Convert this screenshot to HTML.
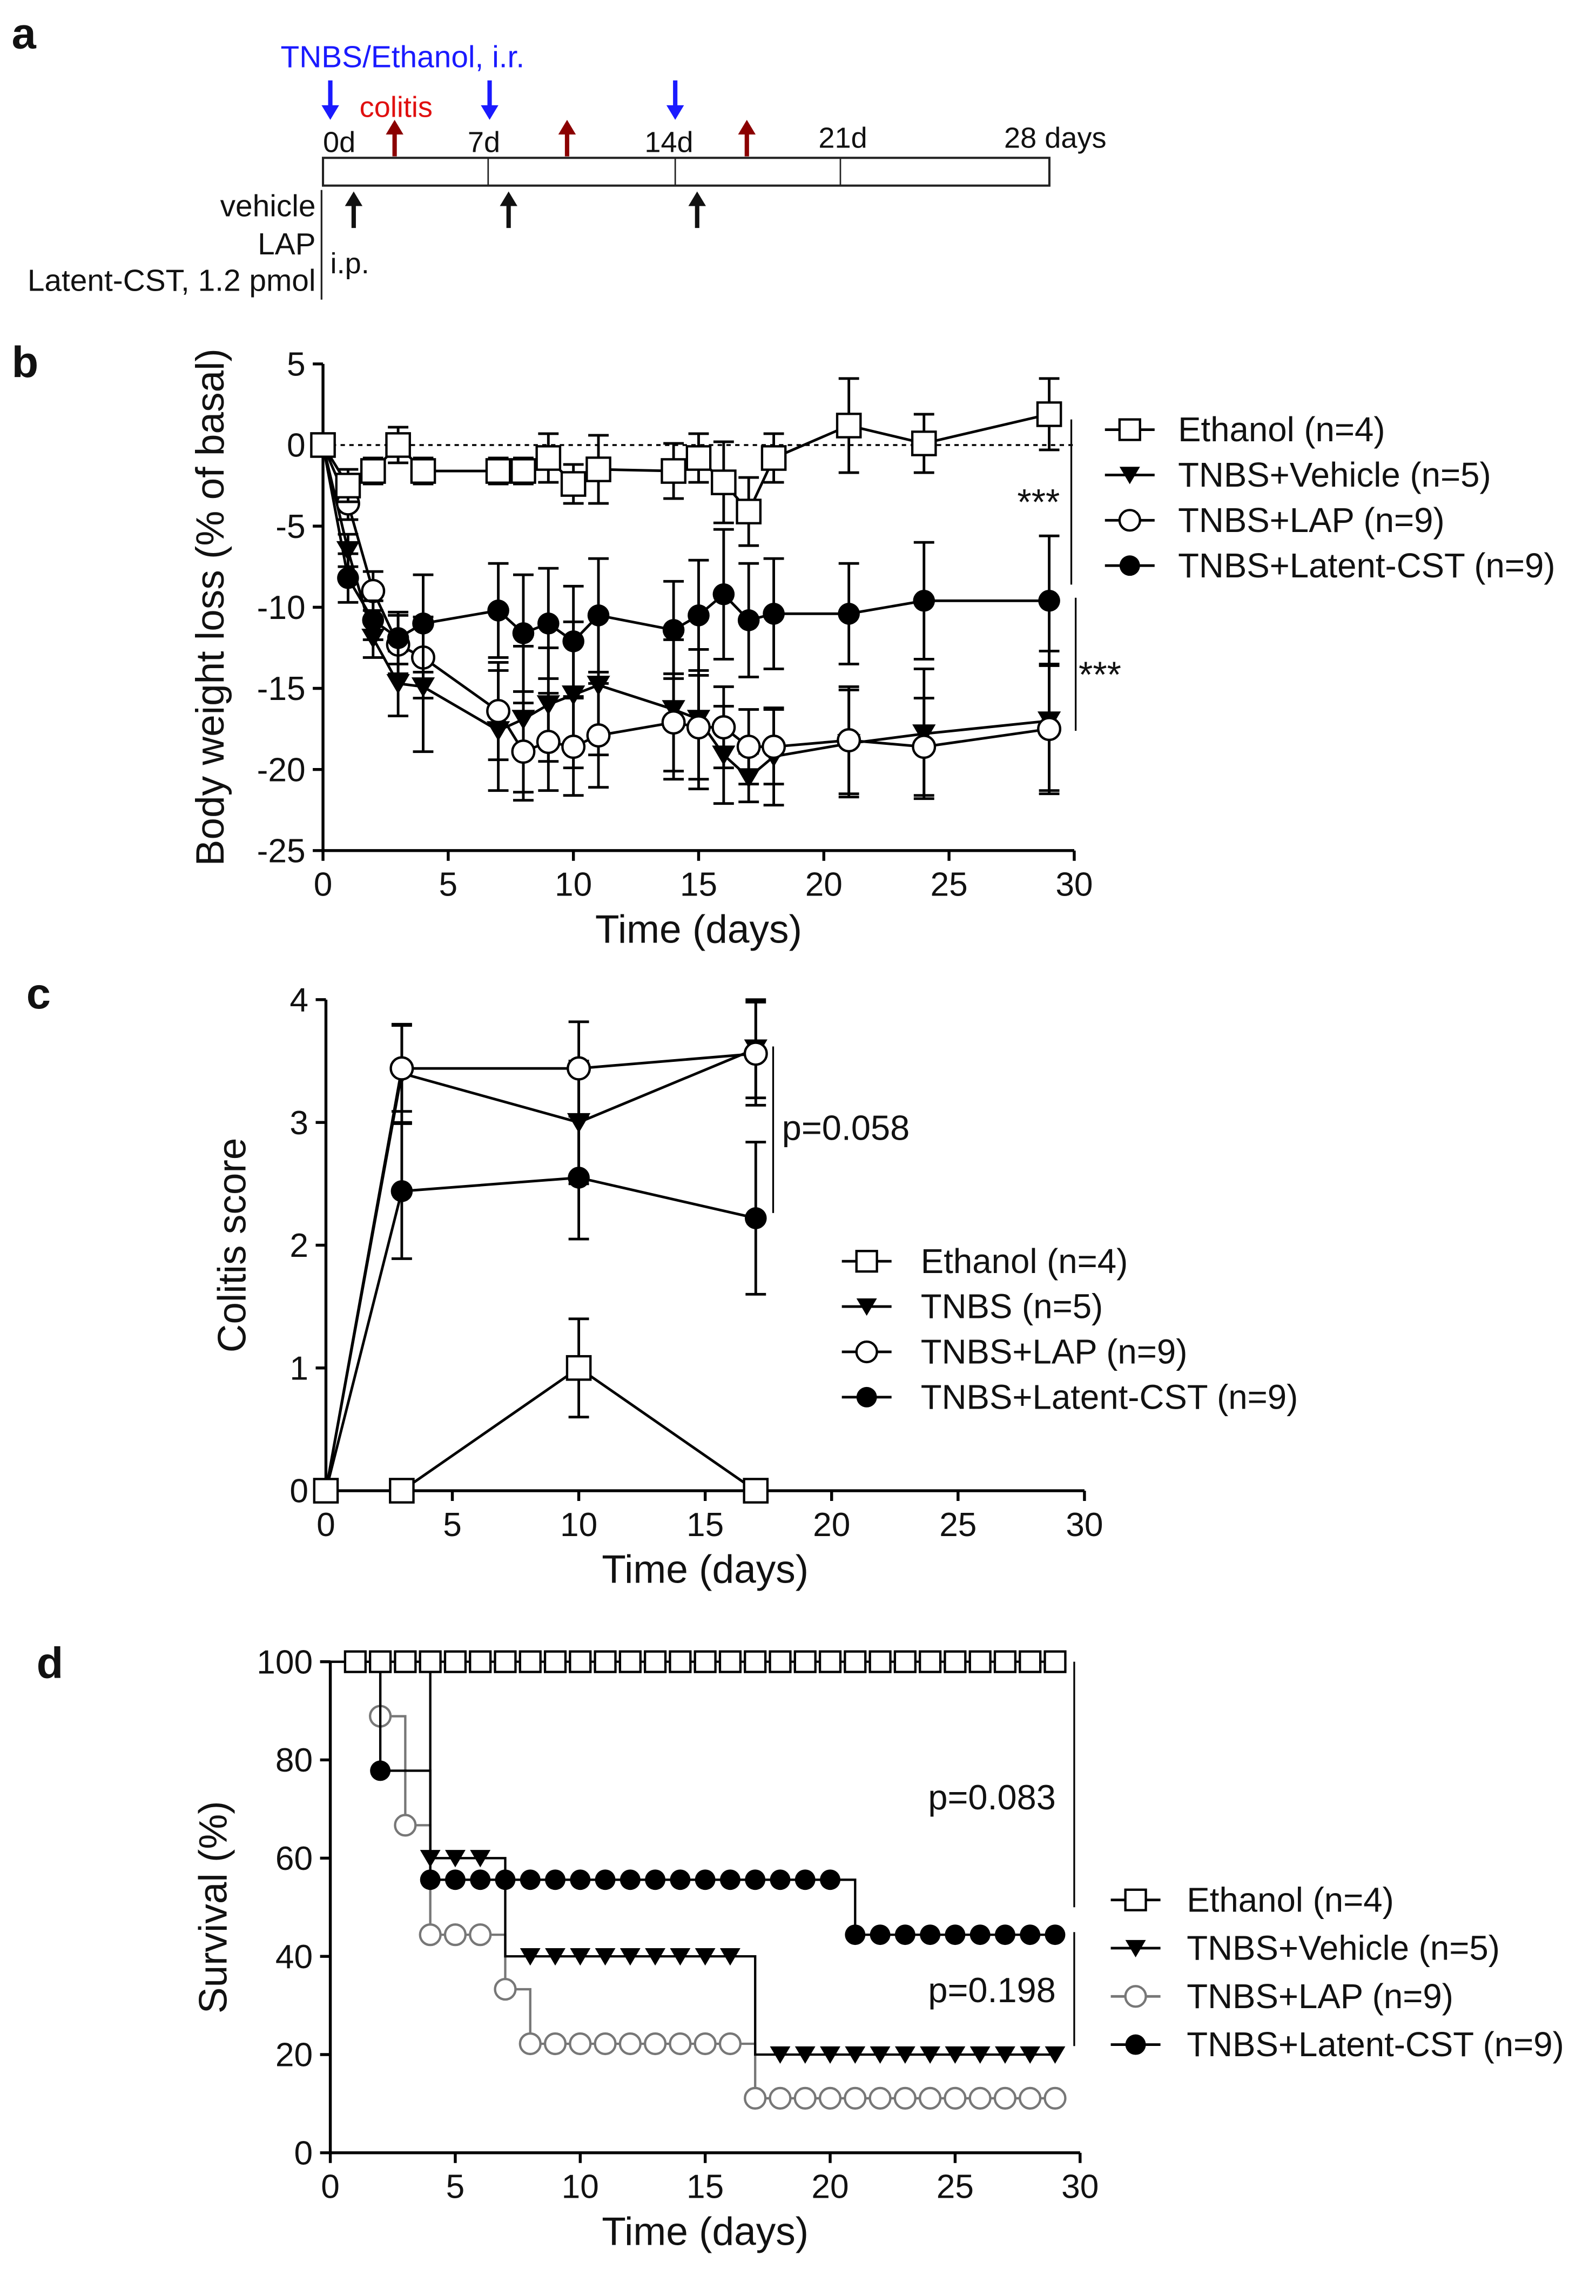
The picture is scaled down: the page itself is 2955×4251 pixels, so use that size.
<!DOCTYPE html>
<html><head><meta charset="utf-8"><style>
html,body{margin:0;padding:0;background:#fff}
svg{display:block}
text{font-family:"Liberation Sans",sans-serif;fill:#111}
</style></head><body>
<svg id="fig" width="2955" height="4251" viewBox="0 0 1092 1571" preserveAspectRatio="none" xmlns="http://www.w3.org/2000/svg">
<!-- Panel a -->
<g>
<text x="8" y="33" font-size="30" font-weight="bold">a</text>
<text x="192" y="46" font-size="21" style="fill:#1a1aff">TNBS/Ethanol, i.r.</text>
<text x="246" y="80" font-size="20" style="fill:#e01010">colitis</text>
<rect x="221" y="108" width="497" height="19" fill="none" stroke="#222" stroke-width="1.5"/>
<line x1="334" y1="108" x2="334" y2="127" stroke="#222"/><line x1="462" y1="108" x2="462" y2="127" stroke="#222"/><line x1="575" y1="108" x2="575" y2="127" stroke="#222"/>
<text x="221" y="104" font-size="20">0d</text><text x="320" y="104" font-size="20">7d</text><text x="441" y="104" font-size="20">14d</text><text x="560" y="101" font-size="20">21d</text><text x="687" y="101" font-size="20">28 days</text>
<g id="arrows"></g>
<line x1="220" y1="130" x2="220" y2="205" stroke="#222" stroke-width="1.2"/>
<text x="216" y="148" font-size="21" text-anchor="end">vehicle</text>
<text x="216" y="174" font-size="21" text-anchor="end">LAP</text>
<text x="216" y="199" font-size="21" text-anchor="end">Latent-CST, 1.2 pmol</text>
<text x="226" y="187" font-size="20">i.p.</text>
</g>
<g id="pb">
<text x="8" y="258" font-size="30" font-weight="bold">b</text>
</g>
<g id="pc">
<text x="18" y="690" font-size="30" font-weight="bold">c</text>
</g>
<g id="pd">
<text x="25" y="1148" font-size="30" font-weight="bold">d</text>
</g>
</svg>
<script>
const NS='http://www.w3.org/2000/svg';
function mk(p,tag,a,txt){const e=document.createElementNS(NS,tag);for(const k in a)e.setAttribute(k,a[k]);if(txt!==undefined)e.textContent=txt;p.appendChild(e);return e;}

// ---- Panel b data ----
const bDays=[0,1,2,3,4,7,8,9,10,11,14,15,16,17,18,21,24,29];
const bEthanol=[0,-2.5,-1.6,0,-1.6,-1.6,-1.6,-0.8,-2.4,-1.5,-1.6,-0.8,-2.3,-4.1,-0.8,1.2,0.1,1.9];
const bEthanolErr=[0,1,0.8,1.1,0.8,0.8,0.8,1.5,1.2,2.1,1.7,1.5,2.5,2.1,1.5,2.9,1.8,2.2];
const bVehicle=[0,-6.5,-11.9,-14.7,-14.9,-17.6,-16.9,-16,-15.4,-14.8,-16.3,-16.9,-19.1,-20.5,-19.2,-18.4,-17.8,-17];
const bVehicleErr=[0,1,1.2,2,4,3.7,4.5,3.5,4.5,4.3,4.3,4.3,3,1.5,3,3.3,4,4.3];
const bLAP=[0,-3.6,-9,-12.3,-13.1,-16.4,-18.9,-18.3,-18.6,-17.9,-17.1,-17.4,-17.4,-18.6,-18.6,-18.2,-18.6,-17.5];
const bLAPErr=[0,1,1.2,1.8,2.5,3,3,3,3,3.2,3,3.2,2.5,2.3,2.3,3.3,3,4];
const bCST=[0,-8.2,-10.8,-11.9,-11,-10.2,-11.6,-11,-12.1,-10.5,-11.4,-10.5,-9.2,-10.8,-10.4,-10.4,-9.6,-9.6];
const bCSTErr=[0,1.5,1.2,1.6,3,2.9,3.6,3.4,3.4,3.5,3,3.4,4,3.5,3.4,3.1,3.6,4];
const bYTicks=[5,0,-5,-10,-15,-20,-25];
const xTicks=[0,5,10,15,20,25,30];

// ---- Panel c data ----
const cDays=[0,3,10,17];
const cEthanol=[0,0,1,0];const cEthanolErr=[0,0,0.4,0];
const cTNBS=[0,3.4,3.0,3.6];const cTNBSErr=[0,0.4,0.5,0.4];
const cLAP=[0,3.44,3.44,3.56];const cLAPErr=[0,0.35,0.38,0.42];
const cCST=[0,2.44,2.55,2.22];const cCSTErr=[0,0.55,0.5,0.62];
const cYTicks=[0,1,2,3,4];

// ---- Panel d data (step survival) ----
const dEthT=[0];const dEthS=[100];
const dEthMarks=[1,2,3,4,5,6,7,8,9,10,11,12,13,14,15,16,17,18,19,20,21,22,23,24,25,26,27,28,29];
const dVehT=[0,4,7,17];const dVehS=[100,60,40,20];
const dVehMarks=[4,5,6,8,9,10,11,12,13,14,15,16,18,19,20,21,22,23,24,25,26,27,28,29];
const dLapT=[0,2,3,4,7,8,17];const dLapS=[100,88.9,66.7,44.4,33.3,22.2,11.1];
const dLapMarks=[2,3,4,5,6,7,8,9,10,11,12,13,14,15,16,17,18,19,20,21,22,23,24,25,26,27,28,29];
const dCstT=[0,2,4,21];const dCstS=[100,77.8,55.6,44.4];
const dCstMarks=[2,4,5,6,7,8,9,10,11,12,13,14,15,16,17,18,19,20,21,22,23,24,25,26,27,28,29];
const dYTicks=[0,20,40,60,80,100];

function marker(g,type,x,y,r,color){
  color=color||'#000';
  let e;
  if(type==='sq'){e=mk(g,'rect',{x:x-r,y:y-r,width:2*r,height:2*r,fill:'#fff',stroke:color,'stroke-width':1.6});}
  else if(type==='tri'){e=mk(g,'path',{d:`M${x-r},${y-r*0.8}L${x+r},${y-r*0.8}L${x},${y+r*0.9}Z`,fill:color});}
  else if(type==='oc'){e=mk(g,'circle',{cx:x,cy:y,r:r,fill:'#fff',stroke:color,'stroke-width':1.6});}
  else {e=mk(g,'circle',{cx:x,cy:y,r:r,fill:color});}
  return e;
}
function axes(g,X,Y,x0,x1,y0,y1,xt,yt,xtitle,ytitle,ytx){
  mk(g,'line',{x1:X(x0),y1:Y(y0),x2:X(x1),y2:Y(y0),stroke:'#000','stroke-width':2});
  mk(g,'line',{x1:X(x0),y1:Y(y0),x2:X(x0),y2:Y(y1),stroke:'#000','stroke-width':2});
  xt.forEach(v=>{mk(g,'line',{x1:X(v),y1:Y(y0),x2:X(v),y2:Y(y0)+7,stroke:'#000','stroke-width':2});
    const t=mk(g,'text',{x:X(v),y:Y(y0)+31,'font-size':23,'text-anchor':'middle'},v);
    });
  yt.forEach(v=>{mk(g,'line',{x1:X(x0)-7,y1:Y(v),x2:X(x0),y2:Y(v),stroke:'#000','stroke-width':2});
    const t=mk(g,'text',{x:X(x0)-12,y:Y(v)+8,'font-size':23,'text-anchor':'end'},v);
    });
  const xt2=mk(g,'text',{x:(X(x0)+X(x1))/2,y:Y(y0)+63,'font-size':27,'text-anchor':'middle'},xtitle);
  
  const yc=(Y(y0)+Y(y1))/2;
  const yt2=mk(g,'text',{x:ytx,y:yc,'font-size':27,'text-anchor':'middle',transform:`rotate(-90 ${ytx} ${yc})`},ytitle);
  
}
function series(g,name,X,Y,xs,ys,es,type,r){
  const s=mk(g,'g',{});
  
  xs.forEach((d,i)=>{if(es[i]>0){const x=X(d),a=Y(ys[i]+es[i]),b=Y(ys[i]-es[i]);
    mk(s,'path',{d:`M${x},${a}L${x},${b}M${x-7},${a}L${x+7},${a}M${x-7},${b}L${x+7},${b}`,stroke:'#000','stroke-width':1.8,fill:'none'});}});
  mk(s,'polyline',{points:xs.map((d,i)=>X(d)+','+Y(ys[i])).join(' '),fill:'none',stroke:'#000','stroke-width':1.8});
  xs.forEach((d,i)=>{const m=marker(s,type,X(d),Y(ys[i]),r);
    });
}
function legend(g,items,mx,tx,y0,dy,fs){
  items.forEach((it,i)=>{const y=y0+i*dy;const lg=mk(g,'g',{});
    
    mk(lg,'line',{x1:mx-17,y1:y,x2:mx+17,y2:y,stroke:it[2]||'#000','stroke-width':1.8});
    marker(lg,it[0],mx,y,7,it[2]);
    mk(lg,'text',{x:tx,y:y+8,'font-size':fs},it[1]);});
}

// arrows panel a
(function(){
  const g=document.getElementById('arrows');
  const arr=(x,y1,y2,c)=>{const up=y2<y1;mk(g,'line',{x1:x,y1:y1,x2:x,y2:y2+(up?8:-8),stroke:c,'stroke-width':3});
    mk(g,'path',{d:up?`M${x-6},${y2+10}L${x+6},${y2+10}L${x},${y2}Z`:`M${x-6},${y2-10}L${x+6},${y2-10}L${x},${y2}Z`,fill:c});};
  [226,335,462].forEach(x=>arr(x,55,82,'#1a1aff'));
  [270,388,511].forEach(x=>arr(x,107,82,'#8b0000'));
  [242,348,477].forEach(x=>arr(x,156,131,'#111'));
})();

// Panel b
(function(){
  const g=document.getElementById('pb');
  const X=v=>221+v*(735-221)/30, Y=v=>249+(5-v)*(582-249)/30;
  mk(g,'line',{x1:X(0),y1:Y(0),x2:X(30),y2:Y(0),stroke:'#000','stroke-width':1.3,'stroke-dasharray':'3,3'});
  axes(g,X,Y,0,30,-25,5,xTicks,bYTicks,'Time (days)','Body weight loss (% of basal)',153);
  series(g,'series-tnbs-vehicle',X,Y,bDays,bVehicle,bVehicleErr,'tri',8);
  series(g,'series-tnbs-lap',X,Y,bDays,bLAP,bLAPErr,'oc',7.5);
  series(g,'series-tnbs-latent-cst',X,Y,bDays,bCST,bCSTErr,'fc',7.5);
  series(g,'series-ethanol',X,Y,bDays,bEthanol,bEthanolErr,'sq',8);
  mk(g,'line',{x1:733,y1:287,x2:733,y2:400,stroke:'#000','stroke-width':1.2});
  mk(g,'text',{x:696,y:352,'font-size':25},'***');
  mk(g,'line',{x1:736,y1:409,x2:736,y2:500,stroke:'#000','stroke-width':1.2});
  mk(g,'text',{x:738,y:470,'font-size':25},'***');
  legend(g,[['sq','Ethanol (n=4)'],['tri','TNBS+Vehicle (n=5)'],['oc','TNBS+LAP (n=9)'],['fc','TNBS+Latent-CST (n=9)']],773,806,294,31,23.5);
})();

// Panel c
(function(){
  const g=document.getElementById('pc');
  const X=v=>223+v*(742-223)/30, Y=v=>1020-v*(1020-684)/4;
  axes(g,X,Y,0,30,0,4,xTicks,cYTicks,'Time (days)','Colitis score',168);
  series(g,'series-tnbs',X,Y,cDays,cTNBS,cTNBSErr,'tri',8);
  series(g,'series-tnbs-lap',X,Y,cDays,cLAP,cLAPErr,'oc',7.5);
  series(g,'series-tnbs-latent-cst',X,Y,cDays,cCST,cCSTErr,'fc',7.5);
  series(g,'series-ethanol',X,Y,cDays,cEthanol,cEthanolErr,'sq',8);
  mk(g,'line',{x1:529,y1:716,x2:529,y2:830,stroke:'#000','stroke-width':1.2});
  mk(g,'text',{x:535,y:780,'font-size':24},'p=0.058');
  legend(g,[['sq','Ethanol (n=4)'],['tri','TNBS (n=5)'],['oc','TNBS+LAP (n=9)'],['fc','TNBS+Latent-CST (n=9)']],593,630,863,31,23.5);
})();

// Panel d
(function(){
  const g=document.getElementById('pd');
  const X=v=>226+v*(739-226)/30, Y=v=>1473-v*(1473-1137)/100;
  axes(g,X,Y,0,30,0,100,xTicks,dYTicks,'Time (days)','Survival (%)',155);
  function step(name,T,S,marks,type,color){
    const s=mk(g,'g',{});
    
    let d=`M${X(0)},${Y(S[0])}`;
    for(let i=1;i<T.length;i++){d+=`L${X(T[i])},${Y(S[i-1])}L${X(T[i])},${Y(S[i])}`;}
    d+=`L${X(29)},${Y(S[S.length-1])}`;
    mk(s,'path',{d:d,fill:'none',stroke:color,'stroke-width':1.6});
    marks.forEach(m=>{let v=S[0];for(let i=0;i<T.length;i++)if(T[i]<=m)v=S[i];
      const e=marker(s,type,X(m),Y(v),7,color);
      });
  }
  step('series-tnbs-lap',dLapT,dLapS,dLapMarks,'oc','#777');
  step('series-tnbs-vehicle',dVehT,dVehS,dVehMarks,'tri','#000');
  step('series-tnbs-latent-cst',dCstT,dCstS,dCstMarks,'fc','#000');
  step('series-ethanol',dEthT,dEthS,dEthMarks,'sq','#000');
  mk(g,'line',{x1:735,y1:1137,x2:735,y2:1305,stroke:'#000','stroke-width':1.2});
  mk(g,'text',{x:635,y:1238,'font-size':24},'p=0.083');
  mk(g,'line',{x1:735,y1:1322,x2:735,y2:1400,stroke:'#000','stroke-width':1.2});
  mk(g,'text',{x:635,y:1370,'font-size':24},'p=0.198');
  legend(g,[['sq','Ethanol (n=4)'],['tri','TNBS+Vehicle (n=5)'],['oc','TNBS+LAP (n=9)','#777'],['fc','TNBS+Latent-CST (n=9)']],777,812,1300,33,23.5);
})();
</script>
</body></html>
